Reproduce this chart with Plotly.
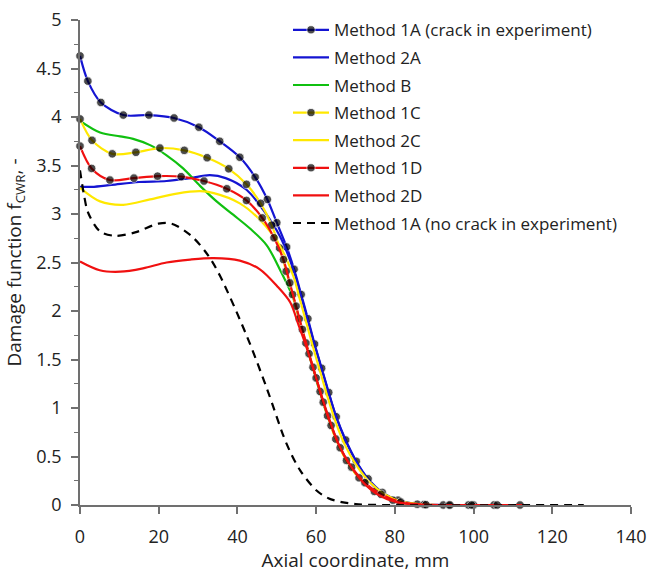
import plotly.graph_objects as go

# ---------------- data ----------------
x_1A = [0, 2.0, 5.3, 11.0, 17.5, 23.9, 30.2, 35.5, 40.6, 44.5, 47.6, 50.0, 52.5, 54.4,
        56.2, 57.9, 59.6, 61.4, 63.2, 65.1, 67.5, 70.2, 73.2, 76.8, 80.8, 85.7, 92.3, 98.7, 105.2, 111.8, 114]
y_1A = [4.63, 4.37, 4.15, 4.02, 4.02, 3.99, 3.895, 3.75, 3.585, 3.38, 3.15, 2.91, 2.66, 2.43,
        2.17, 1.92, 1.66, 1.41, 1.16, 0.91, 0.67, 0.45, 0.27, 0.13, 0.05, 0.008, 0, 0, 0, 0, 0]

x_2A = [0, 3, 8, 15, 22, 28, 33, 37, 42.3, 46.6, 50.8, 54.2, 56.0, 57.7, 59.4, 61.2, 63.0,
        64.9, 67.2, 70.0, 73.0, 76.5, 81.0, 87.0, 114]
y_2A = [3.28, 3.28, 3.30, 3.33, 3.34, 3.37, 3.40, 3.37, 3.25, 3.04, 2.77, 2.43, 2.18, 1.93, 1.68,
        1.43, 1.18, 0.93, 0.69, 0.46, 0.27, 0.13, 0.04, 0.005, 0]

x_B = [0, 5.1, 10.2, 13.5, 17.8, 22.0, 26.2, 30.5, 34.7, 39.0, 43.2, 47.4, 51.0, 54.2, 55.9,
       57.6, 59.4, 61.2, 63.2, 65.5, 68.3, 71.6, 75.5, 80.0, 86.0, 114]
y_B = [3.96, 3.84, 3.80, 3.775, 3.71, 3.605, 3.47, 3.29, 3.13, 2.99, 2.85, 2.68, 2.41, 2.13, 1.88,
       1.63, 1.38, 1.13, 0.88, 0.64, 0.42, 0.25, 0.12, 0.04, 0.005, 0]

x_1C = [0, 3.05, 8.2, 14.2, 20.3, 26.5, 32.3, 37.8, 42.3, 45.9, 48.7, 50.7, 52.4, 54.0, 55.7,
        57.4, 59.2, 61.0, 62.9, 65.0, 67.7, 70.9, 74.8, 79.5, 87.4, 93.7, 100.0, 106.0, 114]
y_1C = [3.98, 3.76, 3.62, 3.636, 3.68, 3.656, 3.58, 3.466, 3.306, 3.11, 2.885, 2.65, 2.41, 2.17, 1.92,
        1.67, 1.42, 1.17, 0.92, 0.68, 0.46, 0.28, 0.14, 0.05, 0.005, 0, 0, 0, 0]

x_2C = [0, 5.1, 11.0, 17.8, 24.6, 30.5, 34.0, 40.6, 45.7, 50.8, 54.2, 56.0, 57.7, 59.4, 61.2,
        63.0, 65.0, 67.3, 70.2, 73.5, 77.5, 82.0, 88.0, 114]
y_2C = [3.27, 3.13, 3.095, 3.15, 3.21, 3.235, 3.215, 3.11, 2.94, 2.67, 2.36, 2.10, 1.85, 1.60, 1.35,
        1.10, 0.85, 0.62, 0.41, 0.24, 0.11, 0.03, 0.003, 0]

x_1D = [0, 2.96, 7.6, 13.7, 19.7, 25.7, 31.5, 37.3, 42.3, 46.3, 49.3, 51.7, 53.3, 54.9, 56.5,
        58.2, 60.0, 61.8, 63.8, 66.1, 69.0, 72.4, 76.5, 81.5, 87.9, 94.0, 99.5, 114]
y_1D = [3.70, 3.47, 3.35, 3.37, 3.39, 3.385, 3.34, 3.26, 3.14, 2.96, 2.755, 2.53, 2.29, 2.05, 1.81,
        1.56, 1.31, 1.06, 0.82, 0.59, 0.39, 0.23, 0.11, 0.03, 0.003, 0, 0, 0]

x_2D = [0, 5, 10.2, 16, 22, 28, 33.9, 40.6, 45.7, 50.0, 53.4, 55.5, 57.6, 59.7, 61.8, 63.8,
        66.0, 68.8, 72.0, 76.0, 80.5, 86.0, 114]
y_2D = [2.51, 2.42, 2.405, 2.44, 2.50, 2.53, 2.545, 2.52, 2.43, 2.26, 2.09, 1.86, 1.62, 1.35, 1.07,
        0.83, 0.60, 0.40, 0.23, 0.10, 0.03, 0.004, 0]

x_1A_nc = [0, 1.0, 2.1, 5.1, 8.9, 14.0, 19.9, 23.3, 28.4, 32.6, 35.6, 42.3, 47.4, 52.5, 55.9,
           60.1, 63.1, 66.5, 70.0, 76.0, 128]
y_1A_nc = [3.45, 3.20, 3.01, 2.82, 2.775, 2.81, 2.90, 2.90, 2.77, 2.57, 2.36, 1.75, 1.21, 0.63, 0.36,
           0.15, 0.07, 0.03, 0.01, 0.0, 0]

names = ["Method 1A (crack in experiment)", "Method 2A", "Method B", "Method 1C",
         "Method 2C", "Method 1D", "Method 2D", "Method 1A (no crack in experiment)"]

x_ticks = [0, 20, 40, 60, 80, 100, 120, 140]
y_ticks = [0, 0.5, 1, 1.5, 2, 2.5, 3, 3.5, 4, 4.5, 5]

# ---------------- styles ----------------
BLUE = "#1414d2"
GREEN = "#10c010"
YELLOW = "#ffe800"
RED = "#f01010"
LW = 2.2
FONT = "Open Sans"

series = [
    (x_1A, y_1A, BLUE, True, "solid"),
    (x_2A, y_2A, BLUE, False, "solid"),
    (x_B, y_B, GREEN, False, "solid"),
    (x_1C, y_1C, YELLOW, True, "solid"),
    (x_2C, y_2C, YELLOW, False, "solid"),
    (x_1D, y_1D, RED, True, "solid"),
    (x_2D, y_2D, RED, False, "solid"),
    (x_1A_nc, y_1A_nc, "black", False, "8px,6px"),
]

fig = go.Figure()
for i, ((xs, ys, col, mk, dash), nm) in enumerate(zip(series, names)):
    tr = dict(x=xs, y=ys, name=nm, legendgroup="g%d" % i,
              line=dict(color=col, width=LW, shape="spline", smoothing=0.9, dash=dash),
              cliponaxis=False)
    if mk:
        sizes = [8.5] * (len(xs) - 1) + [0]
        tr["mode"] = "lines+markers"
        tr["marker"] = dict(color="black", size=sizes, line=dict(color="white", width=0.8))
    else:
        tr["mode"] = "lines"
    fig.add_trace(go.Scatter(**tr))

AX = "#707070"
TXT = "#222"
fig.update_layout(
    width=649, height=573,
    margin=dict(l=80, r=18, t=15, b=68),
    paper_bgcolor="white", plot_bgcolor="white",
    font=dict(family=FONT, size=17, color=TXT),
    showlegend=True,
    legend=dict(x=0.3775, y=1.016, xanchor="left", yanchor="top",
                bgcolor="rgba(0,0,0,0)", font=dict(size=17, color=TXT),
                itemwidth=36, tracegroupgap=2.5, traceorder="grouped"),
    xaxis=dict(range=[0, 140], tickvals=x_ticks, showgrid=False, zeroline=False,
               automargin=False,
               showline=True, linecolor=AX, linewidth=1.5,
               ticks="outside", ticklen=7, tickwidth=1.5, tickcolor=AX,
               tickfont=dict(size=18, color=TXT), ticklabelstandoff=8,
               title=dict(text="Axial coordinate, mm", font=dict(size=19, color=TXT),
                          standoff=6)),
    yaxis=dict(range=[0, 5], tickvals=y_ticks, showgrid=False, zeroline=False,
               automargin=False,
               showline=True, linecolor=AX, linewidth=1.5,
               ticks="outside", ticklen=7, tickwidth=1.5, tickcolor=AX,
               tickfont=dict(size=18, color=TXT), ticklabelstandoff=6,
               minor=dict(dtick=0.25, ticks="outside", ticklen=4, tickwidth=1.2,
                          tickcolor=AX, showgrid=False),
               title=dict(text="Damage function f<sub>CWR</sub>, -",
                          font=dict(size=19, color=TXT), standoff=10)),
)

fig.write_html("out.html")
